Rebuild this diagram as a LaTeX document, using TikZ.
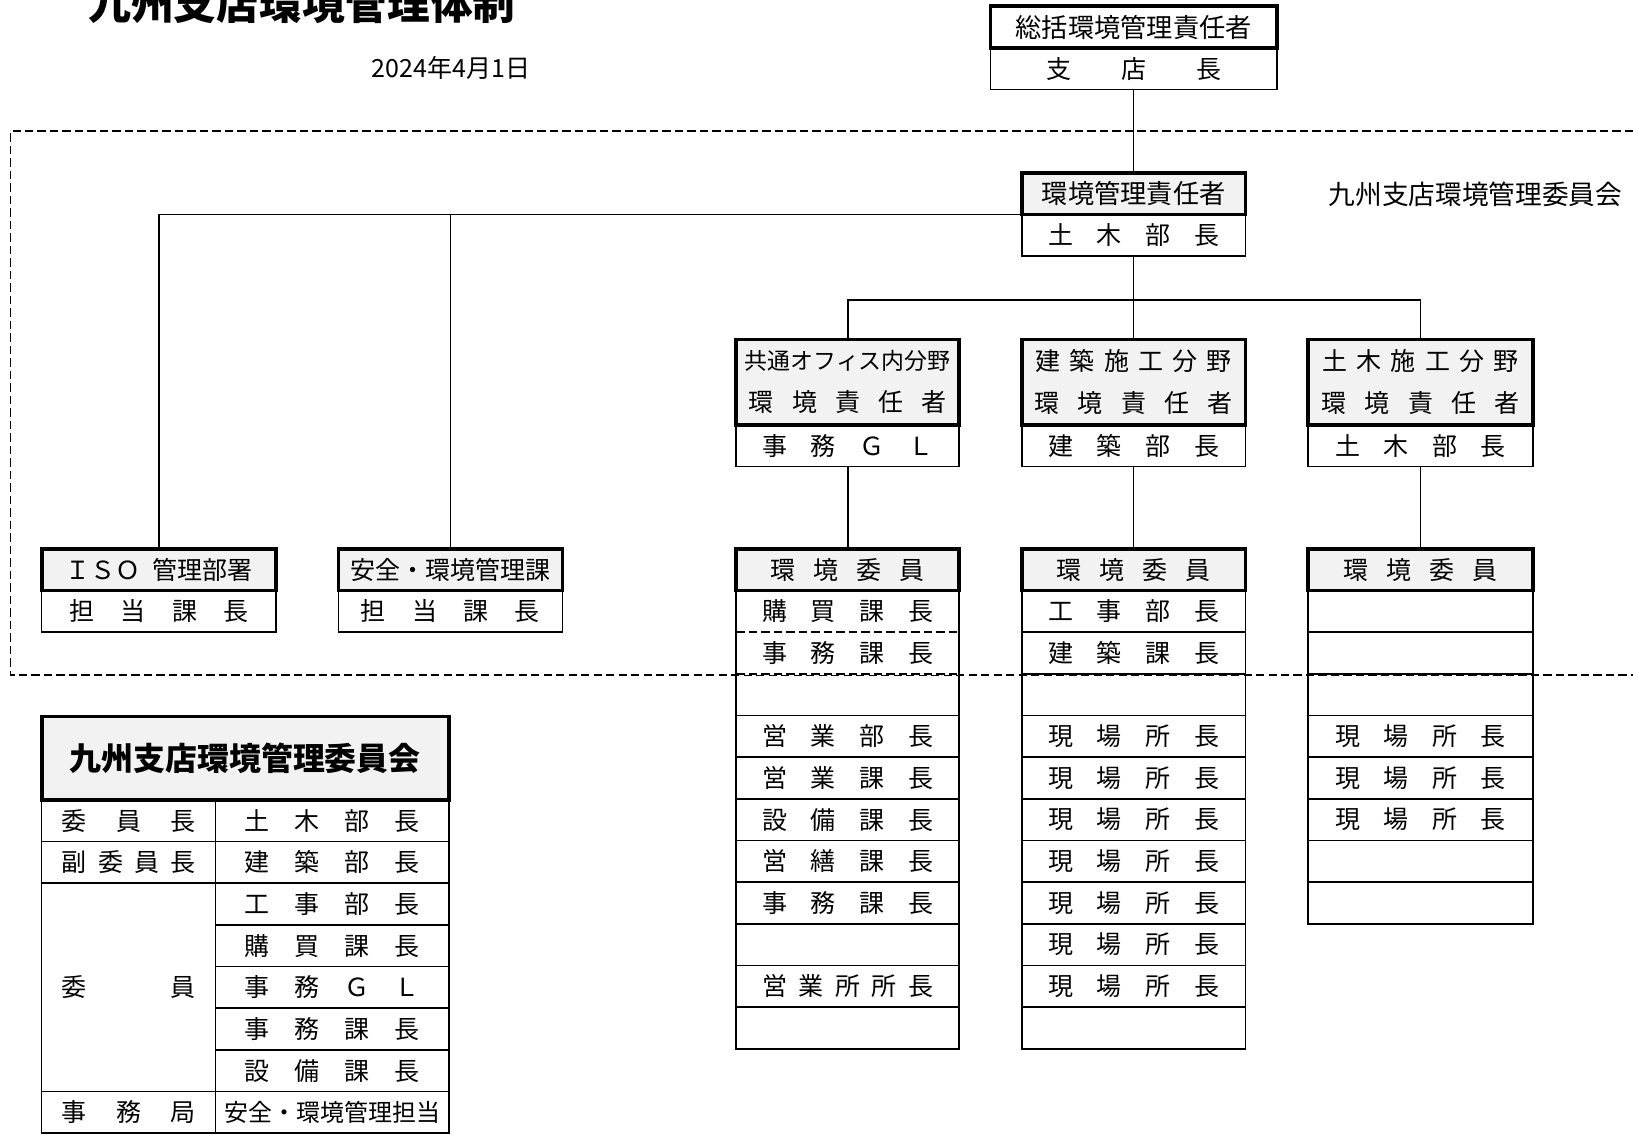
\documentclass[tikz,border=0pt]{standalone}
\usepackage{fontspec}
\setmainfont{Noto Sans CJK JP}
\usetikzlibrary{positioning}

% spread the characters of #2 evenly over the width #1
\makeatletter
\def\kin@do#1#2{\makebox[#1][s]{\@tfor\kin@c:=#2\do{\kin@c\hfill}\unskip}}
\newcommand\kin[2]{\edef\kin@tmp{\noexpand\kin@do{#1}{#2}}\kin@tmp}
\makeatother

\begin{document}
\begin{tikzpicture}[
    x=0.5pt,y=-0.5pt,
    every node/.style={inner sep=0pt,outer sep=0pt},
    font=\fontsize{12}{14}\selectfont,
    node distance=0pt,
    head/.style={draw,line width=1.8pt,fill=gray!10,minimum height=20pt},
    cell/.style={draw,line width=0.8pt,minimum height=20pt},
    conn/.style={line width=0.8pt},
    cmtframe/.style={line width=0.8pt,dash pattern=on 4pt off 2pt}
  ]
    \useasboundingbox (0,0) rectangle (1568,1089);

    \node[anchor=base west,font=\fontsize{20.5}{22}\selectfont\bfseries] (title) at (85,19) {九州支店環境管理体制};
    \node[anchor=west] (date) at (357,65) {2024年4月1日};

    % committee area
    \draw[cmtframe] (1568,126) -- (10,126) -- (10,648) -- (1568,648);
    \node[anchor=west,font=\fontsize{12.8}{14}\selectfont] (iinkai) at (1276,187) {九州支店環境管理委員会};

    \node[head,fill=white,minimum width=137.5pt,anchor=north west,font=\fontsize{12.6}{14}\selectfont] (souh) at (951,6) {総括環境管理責任者};
    \node[cell,minimum width=137.5pt,below=of souh] (soub) {\kin{84pt}{支店長}};

    \node[head,minimum width=107.5pt,anchor=north west,font=\fontsize{12.6}{14}\selectfont] (kanh) at (981,166) {環境管理責任者};
    \node[cell,minimum width=107.5pt,below=of kanh] (kanb) {\kin{82pt}{土木部長}};

    % field managers
    \node[head,minimum width=107pt,minimum height=41pt,anchor=north west,align=center,font=\fontsize{12}{20}\selectfont] (kyoh) at (707,326) {{\fontsize{11}{20}\selectfont 共通オフィス内分野}\\\kin{95pt}{環境責任者}};
    \node[cell,minimum width=107pt,below=of kyoh] (kyob) {\kin{82pt}{事務ＧＬ}};
    \node[head,minimum width=107.5pt,minimum height=41pt,anchor=north west,align=center,font=\fontsize{12}{20}\selectfont] (kenh) at (981,326) {\kin{94pt}{建築施工分野}\\\kin{95pt}{環境責任者}};
    \node[cell,minimum width=107.5pt,below=of kenh] (kenb) {\kin{82pt}{建築部長}};
    \node[head,minimum width=108pt,minimum height=41pt,anchor=north west,align=center,font=\fontsize{12}{20}\selectfont] (dobh) at (1256,326) {\kin{94pt}{土木施工分野}\\\kin{95pt}{環境責任者}};
    \node[cell,minimum width=108pt,below=of dobh] (dobb) {\kin{82pt}{土木部長}};

    \node[head,minimum width=112.5pt,anchor=north west] (isoh) at (40,527) {ＩＳＯ\hspace{0.5em}管理部署};
    \node[cell,minimum width=112.5pt,below=of isoh] (isob) {\kin{86pt}{担当課長}};
    \node[head,minimum width=107.5pt,anchor=north west] (anzh) at (325,527) {安全・環境管理課};
    \node[cell,minimum width=107.5pt,below=of anzh] (anzb) {\kin{86pt}{担当課長}};

    % environment committee members
    \node[head,minimum width=107pt,anchor=north west] (kyoc) at (707,527) {\kin{74pt}{環境委員}};
    \foreach \lbl [count=\i] in {購買課長,事務課長,{},営業部長,営業課長,設備課長,営繕課長,事務課長,{},営業所所長,{}}
      \node[cell,minimum width=107pt,anchor=north west] (kyo\i) at (707,527+40*\i) {\kin{82pt}{\lbl}};
    \foreach \i in {1,2} {
      \draw[white,line width=1.4pt,shorten <=0.5pt,shorten >=0.5pt] (kyo\i.south west) -- (kyo\i.south east);
      \draw[cmtframe] (kyo\i.south west) -- (kyo\i.south east);
    }
    \node[head,minimum width=107.5pt,anchor=north west] (kenc) at (981,527) {\kin{74pt}{環境委員}};
    \foreach \lbl [count=\i] in {工事部長,建築課長,{},現場所長,現場所長,現場所長,現場所長,現場所長,現場所長,現場所長,{}}
      \node[cell,minimum width=107.5pt,anchor=north west] (ken\i) at (981,527+40*\i) {\kin{82pt}{\lbl}};
    \node[head,minimum width=108pt,anchor=north west] (dobc) at (1256,527) {\kin{74pt}{環境委員}};
    \foreach \lbl [count=\i] in {{},{},{},現場所長,現場所長,現場所長,{},{}}
      \node[cell,minimum width=108pt,anchor=north west] (dob\i) at (1256,527+40*\i) {\kin{82pt}{\lbl}};

    % connectors
    \coordinate[below=21pt of kanb] (fork);
    \draw[conn] (soub) -- (kanh);
    \draw[conn] (kanh.south west) -| (isoh.north);
    \draw[conn] (kanh.south west) -| (anzh.north);
    \draw[conn] (kanb) -- (fork);
    \draw[conn] (kyoh.north) |- (fork) -| (dobh.north);
    \draw[conn] (fork) -- (kenh);
    \draw[conn] (kyob) -- (kyoc);
    \draw[conn] (kenb) -- (kenc);
    \draw[conn] (dobb) -- (dobc);

    % committee table
    \node[head,minimum width=195.5pt,minimum height=40pt,anchor=north west,font=\fontsize{15.3}{17}\selectfont\bfseries] (tabh) at (40,688) {九州支店環境管理委員会};
    \foreach \lbl/\yt/\h [count=\i] in {委員長/768/20,副委員長/808/20,委員/848/100,事務局/1048/20}
      \node[cell,minimum width=83.5pt,minimum height=\h pt,anchor=north west] (yaku\i) at (40,\yt) {\kin{64pt}{\lbl}};
    \foreach \lbl [count=\i] in {土木部長,建築部長,工事部長,購買課長,事務ＧＬ,事務課長,設備課長}
      \node[cell,minimum width=112pt,anchor=north west] (mem\i) at (207,728+40*\i) {\kin{84pt}{\lbl}};
    \node[cell,minimum width=112pt,anchor=north west,font=\fontsize{11.5}{14}\selectfont] (mem8) at (207,1048) {安全・環境管理担当};
  \end{tikzpicture}
\end{document}
